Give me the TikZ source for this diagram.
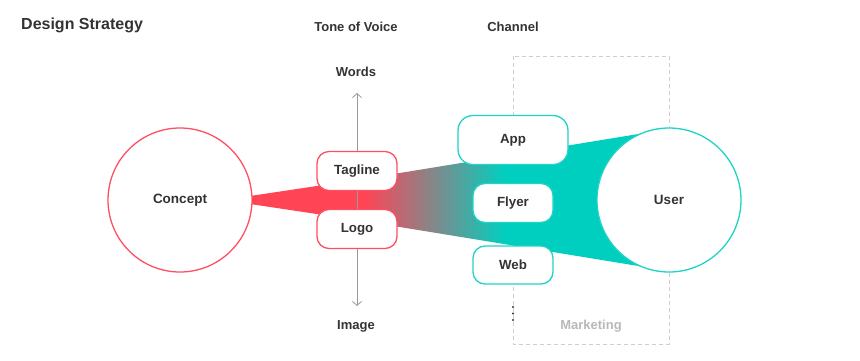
\documentclass[tikz,border=0pt]{standalone}
\usepackage{fontspec}
\setmainfont{Liberation Sans}
\usepackage{xcolor}
\usepackage{tikz}
\usetikzlibrary{arrows.meta}
\definecolor{conceptred}{HTML}{FF4F62}
\definecolor{bandred}{HTML}{FF4456}
\definecolor{userteal}{HTML}{1FD3C6}
\definecolor{bandteal}{HTML}{00CFC0}
\definecolor{labelgrey}{HTML}{333333}
\definecolor{arrowgrey}{HTML}{9A9A9A}
\definecolor{dashgrey}{HTML}{CFCFCF}
\definecolor{mutedgrey}{HTML}{B8B8B8}

\begin{document}
\begin{tikzpicture}[x=1pt, y=-1pt,
    title/.style={font=\fontsize{16}{19}\selectfont\bfseries, text=labelgrey, anchor=west, inner sep=0pt},
    heading/.style={font=\fontsize{13}{15}\selectfont\bfseries, text=labelgrey},
    circ/.style={circle, draw, fill=white, line width=1.3pt, minimum size=144pt, font=\fontsize{13.5}{16}\selectfont\bfseries, text=labelgrey},
    tag/.style={rectangle, draw=conceptred, fill=white, rounded corners=12pt, line width=1.3pt, minimum width=80pt, minimum height=39pt, font=\fontsize{13.3}{16}\selectfont\bfseries, text=labelgrey},
    chan/.style={tag, draw=userteal},
    arrow/.style={->, >={Straight Barb[length=4pt,width=9pt]}, draw=arrowgrey, line width=0.8pt},
    link/.style={draw=arrowgrey, line width=0.8pt},
    frame/.style={draw=dashgrey, dash pattern=on 4pt off 3pt, line width=0.8pt}
]
    \useasboundingbox (0,0) rectangle (860,360);

    \draw[frame] (513,56) rectangle (669,344);

    \begin{scope}
        \clip (240,197.5) -- (357,180) -- (669,129) -- (669,271) -- (357,220) -- (240,202.5) -- cycle;
        \fill[bandred] (230,100) rectangle (366,300);
        \shade[left color=bandred, right color=bandteal] (365,100) rectangle (505,300);
        \fill[bandteal] (504,100) rectangle (680,300);
    \end{scope}

    \node[title] (design) at (21,25) {Design Strategy};
    \node[heading] (tone) at (356,27) {Tone of Voice};
    \node[heading] (channel) at (513,27) {Channel};
    \node[heading] (words) at (356,72) {Words};
    \node[heading] (image) at (356,326) {Image};
    \node[heading, text=mutedgrey] (marketing) at (591,326) {Marketing};

    \node[circ, draw=conceptred] (concept) at (180,200) {Concept};
    \node[circ, draw=userteal] (user) at (669,200) {User};

    \node[tag] (tagline) at (357,171) {Tagline};
    \node[tag] (logo) at (357,229) {Logo};

    \node[chan, minimum width=110pt, minimum height=49pt, rounded corners=15pt] (app) at (513,140) {App};
    \node[chan] (flyer) at (513,203) {Flyer};
    \node[chan, minimum height=38pt] (web) at (513,265) {Web};

    \coordinate (wordstip) at (357,93);
    \coordinate (imagetip) at (357,306);

    \draw[arrow] (tagline) -- (wordstip);
    \draw[arrow] (logo) -- (imagetip);
    \draw[link] (tagline) -- (logo);

    \foreach \y in {307,313.5,320}
        \fill[labelgrey] (513,\y) circle (1.2pt);
\end{tikzpicture}
\end{document}
